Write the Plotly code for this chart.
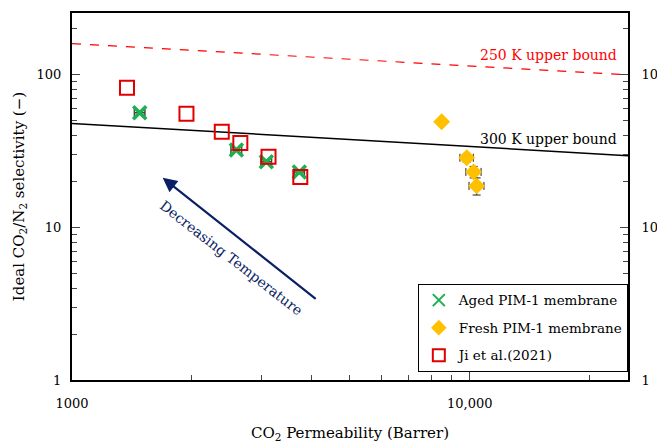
import plotly.graph_objects as go

# ---- data ----
aged_perm = [1480, 2590, 3080, 3730]
aged_sel = [56.4, 32.2, 26.9, 23.1]
aged_perm_err = [45, 80, 95, 110]

fresh_perm = [8500, 9830, 10230, 10410]
fresh_sel = [49.2, 28.6, 23.1, 18.7]
fresh_perm_err = [0, 380, 450, 450]
fresh_sel_err = [0, 1.8, 2.0, 2.4]

ji_perm = [1375, 1940, 2380, 2650, 3120, 3750]
ji_sel = [82.2, 55.5, 42.3, 35.8, 29.0, 21.4]

bound_perm = [1000, 25000]
bound_250 = [160, 100]
bound_300 = [48, 29.5]

x_tickvals = [1000, 10000]
x_ticktext = ["1000", "10,000"]
x_minor = [2000, 3000, 4000, 5000, 6000, 7000, 8000, 9000, 20000]
y_tickvals = [1, 10, 100]
y_ticktext = ["1", "10", "100"]
y_minor = [2, 3, 4, 5, 6, 7, 8, 9, 20, 30, 40, 50, 60, 70, 80, 90, 200]

FONT = "DejaVu Serif"
NAVY = "#0b1f66"

fig = go.Figure()

fig.add_trace(go.Scatter(x=bound_perm, y=bound_250, mode="lines",
                         line=dict(color="#ff0000", width=1.2, dash="dash"),
                         showlegend=False, hoverinfo="skip"))
fig.add_trace(go.Scatter(x=bound_perm, y=bound_300, mode="lines",
                         line=dict(color="black", width=1.5),
                         showlegend=False, hoverinfo="skip"))

fig.add_trace(go.Scatter(
    x=aged_perm, y=aged_sel, mode="markers", name="Aged PIM-1 membrane",
    legendgroup="a",
    marker=dict(symbol="x-thin", size=13, color="#1db04f",
                line=dict(width=3.5, color="#1db04f")),
    error_x=dict(type="data", array=aged_perm_err, color="#444444", thickness=1.5, width=4),
))
fig.add_trace(go.Scatter(
    x=fresh_perm, y=fresh_sel, mode="markers", name="Fresh PIM-1 membrane",
    legendgroup="b",
    marker=dict(symbol="diamond", size=13, color="#ffc000"),
    error_x=dict(type="data", array=fresh_perm_err, color="#222222", thickness=1, width=4),
    error_y=dict(type="data", array=fresh_sel_err, color="#222222", thickness=1, width=4),
))
fig.add_trace(go.Scatter(
    x=ji_perm, y=ji_sel, mode="markers", name="Ji et al.(2021)",
    legendgroup="c",
    marker=dict(symbol="square-open", size=14, color="#e00000", line=dict(width=2)),
))

# secondary y axis for right-side labels
fig.add_trace(go.Scatter(x=[1000], y=[1], yaxis="y2", mode="markers",
                         marker=dict(opacity=0), showlegend=False, hoverinfo="skip"))

yr = [0, 2.405]
fig.update_layout(
    width=657, height=435,
    margin=dict(l=64, r=37, t=5, b=63, autoexpand=False),
    paper_bgcolor="white", plot_bgcolor="white",
    font=dict(family=FONT, size=14, color="black"),
    xaxis=dict(type="log", range=[3, 4.398], tickmode="array", tickvals=x_tickvals,
               ticktext=x_ticktext, ticks="inside", ticklen=8, tickwidth=1,
               minor=dict(tickmode="array", tickvals=x_minor, ticks="inside", ticklen=5),
               showline=True, linecolor="black", linewidth=2, mirror=True,
               showgrid=False, zeroline=False, ticklabelstandoff=10, automargin=False,
               title=dict(text="CO<sub>2</sub> Permeability (Barrer)", standoff=18,
                          font=dict(size=15, family=FONT)),
               tickfont=dict(size=13, family=FONT)),
    yaxis=dict(type="log", range=yr, tickmode="array", tickvals=y_tickvals,
               ticktext=y_ticktext, ticks="inside", ticklen=8,
               minor=dict(tickmode="array", tickvals=y_minor, ticks="inside", ticklen=5),
               showline=True, linecolor="black", linewidth=2, ticklabelstandoff=6,
               showgrid=False, zeroline=False, automargin=False,
               title=dict(text="Ideal CO<sub>2</sub>/N<sub>2</sub> selectivity (−)", standoff=8,
                          font=dict(size=15, family=FONT)),
               tickfont=dict(size=13, family=FONT)),
    yaxis2=dict(type="log", range=yr, overlaying="y", side="right", tickmode="array",
                tickvals=y_tickvals, ticktext=y_ticktext, ticks="inside", ticklen=8,
                minor=dict(tickmode="array", tickvals=y_minor, ticks="inside", ticklen=5),
                showline=True, linecolor="black", linewidth=2, showgrid=False,
                zeroline=False, ticklabelstandoff=9, automargin=False,
                tickfont=dict(size=13, family=FONT)),
    legend=dict(x=0.622, y=0.262, xanchor="left", yanchor="top",
                bordercolor="black", borderwidth=1, bgcolor="white",
                font=dict(size=13.5, family=FONT), itemsizing="constant", itemwidth=30,
                tracegroupgap=7),
    showlegend=True,
)

fig.add_annotation(x=4.198, y=2.131, xref="x", yref="y", text="250 K upper bound",
                   showarrow=False, font=dict(color="#ff0000", size=14, family=FONT))
fig.add_annotation(x=4.198, y=1.580, xref="x", yref="y", text="300 K upper bound",
                   showarrow=False, font=dict(color="black", size=14, family=FONT))
fig.add_annotation(x=3.228, y=1.3246, ax=3.6165, ay=0.5246, xref="x", yref="y",
                   axref="x", ayref="y", text="", showarrow=True, arrowhead=2,
                   arrowsize=1.3, arrowwidth=2.2, arrowcolor=NAVY)
fig.add_annotation(x=3.401, y=0.80, xref="x", yref="y", text="Decreasing Temperature",
                   showarrow=False, textangle=38, font=dict(color=NAVY, size=14, family=FONT))

fig.write_html("out.html")
